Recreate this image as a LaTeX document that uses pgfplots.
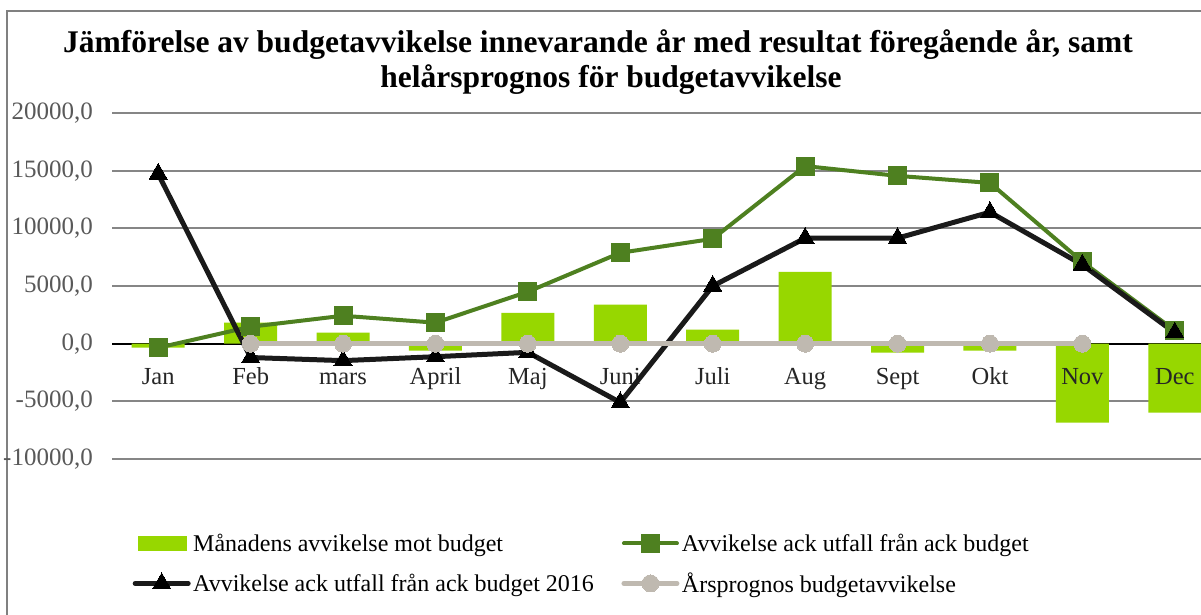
\documentclass[border=0pt]{standalone}
\usepackage{fontspec}
\setmainfont{Liberation Serif}
\usepackage{pgfplots}
\pgfplotsset{compat=1.18}
\definecolor{barc}{HTML}{97D700}
\definecolor{grn}{HTML}{4E8020}
\definecolor{blk}{HTML}{1A1A1A}
\definecolor{gry}{HTML}{BFB9B0}
\definecolor{gridc}{HTML}{868686}
\definecolor{bordc}{HTML}{808080}
\definecolor{ylab}{HTML}{595959}
\definecolor{xlab}{HTML}{262626}
\pgfplotsset{
  base/.style={
    at={(112pt,-459pt)}, anchor=south west,
    scale only axis, width=1109pt, height=346pt,
    xmin=-0.5, xmax=11.5, ymin=-10000, ymax=20000,
    scaled y ticks=false,
    axis line style={draw=none},
    major tick length=0pt,
    xtick={0,...,11},
    ytick={-10000,-5000,5000,10000,15000,20000},
    extra y ticks={0},
    clip=false,
  }
}
\begin{document}
\begin{tikzpicture}[x=1pt,y=1pt]
\path[use as bounding box, clip] (0,0) rectangle (1201,-614);
\fill[white] (0,0) rectangle (1201,-614);
\draw[color=bordc, line width=2pt] (7,-11) rectangle (1260,-700);
\node[anchor=base, inner sep=0pt, font=\bfseries\fontsize{31.5}{36}\selectfont] at (598,-52) {Jämförelse av budgetavvikelse innevarande år med resultat föregående år, samt};
\node[anchor=base, inner sep=0pt, font=\bfseries\fontsize{31.5}{36}\selectfont] at (611,-87) {helårsprognos för budgetavvikelse};
% axis 1: grid and bars
\begin{axis}[base,
  xticklabels={}, yticklabels={}, extra y tick labels={},
  extra y tick style={grid style={black, line width=2pt}},
  ymajorgrids,
  grid style={gridc, line width=2pt},
]
\addplot[ybar, bar width=53pt, bar shift=0pt, fill=barc, draw=none]
  coordinates {(0,-350) (1,1820) (2,950) (3,-600) (4,2680) (5,3380) (6,1210) (7,6230) (8,-770) (9,-610) (10,-6840) (11,-5970)};
\end{axis}
% axis 2: labels, lines, legend
\begin{axis}[base,
  xticklabels={Jan,Feb,mars,April,Maj,Juni,Juli,Aug,Sept,Okt,Nov,Dec},
  xticklabel style={anchor=base, inner sep=0pt, yshift=75pt, font=\fontsize{24.5}{28}\selectfont, text=xlab},
  yticklabels={{-10000,0},{-5000,0},{5000,0},{10000,0},{15000,0},{20000,0}},
  extra y tick labels={0{,}0},
  yticklabel style={anchor=east, inner sep=0pt, xshift=-19pt, font=\fontsize{25}{29}\selectfont, text=ylab},
  legend columns=2,
  legend cell align=left,
  legend style={at={(axis description cs:0.01849,-0.3035)}, anchor=west, draw=none, fill=none, inner sep=0pt,
    font=\fontsize{24}{28}\selectfont, row sep=20pt,
    nodes={inner xsep=2.5pt, inner ysep=0pt},
    /tikz/every even column/.append style={column sep=25pt}},
  legend image code/.code={\draw[mark repeat=2,mark phase=2,#1, line cap=round] plot coordinates {(0pt,0pt) (26.5pt,0pt) (53pt,0pt)};},
]
\addlegendimage{legend image code/.code={\fill[barc, draw=none] (3pt,-7.5pt) rectangle (52pt,7.5pt); \path[draw=none, fill=none] (0pt,0pt) -- (53pt,0pt);}}
\addlegendentry{Månadens avvikelse mot budget}
\addplot[grn, line width=4pt, mark=square*, mark size=9pt, mark options={solid, fill=grn, draw=grn, line width=0pt}]
  coordinates {(0,-350) (1,1470) (2,2420) (3,1820) (4,4500) (5,7880) (6,9090) (7,15400) (8,14550) (9,13940) (10,7100) (11,1130)};
\addlegendentry{Avvikelse ack utfall från ack budget}
\addplot[blk, line width=5pt, mark=triangle*, mark size=10.5pt, mark options={solid, fill=black, draw=black, line width=0pt}]
  coordinates {(0,14720) (1,-1200) (2,-1470) (3,-1130) (4,-750) (5,-5100) (6,5000) (7,9150) (8,9150) (9,11400) (10,6840) (11,950)};
\addlegendentry{Avvikelse ack utfall från ack budget 2016}
\addplot[gry, line width=5pt, mark=*, mark size=8.5pt, mark options={solid, fill=gry, draw=gry, line width=0pt}]
  coordinates {(1,0) (2,0) (3,0) (4,0) (5,0) (6,0) (7,0) (8,0) (9,0) (10,0)};
\addlegendentry{Årsprognos budgetavvikelse}
\end{axis}
\end{tikzpicture}
\end{document}
